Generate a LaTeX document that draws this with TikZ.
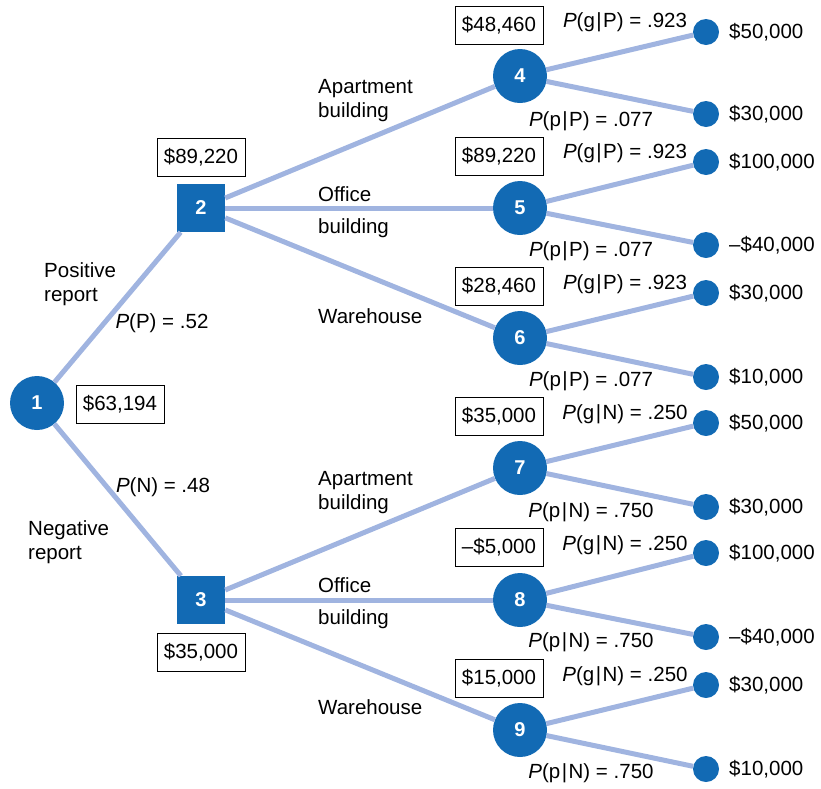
\documentclass[tikz,border=0pt]{standalone}
\usepackage{fontspec}
\setmainfont{Liberation Sans}
\definecolor{nodeblue}{RGB}{18,106,180}
\definecolor{lineblue}{RGB}{160,180,224}
\begin{document}
\begin{tikzpicture}[x=1pt,y=-1pt,
  every node/.style={font=\fontsize{20.5}{24}\selectfont},
  chance/.style={circle,fill=nodeblue,minimum size=54pt,inner sep=0pt,text=white,font=\fontsize{20}{24}\selectfont\bfseries},
  decision/.style={rectangle,fill=nodeblue,minimum size=48pt,inner sep=0pt,text=white,font=\fontsize{20}{24}\selectfont\bfseries},
  term/.style={circle,fill=nodeblue,minimum size=26pt,inner sep=0pt},
  valbox/.style={draw=black,line width=0.9pt,inner xsep=7pt,minimum height=38pt},
  branch/.style={draw=lineblue,line width=5pt},
  lbl/.style={align=left,inner sep=0pt},
  pay/.style={anchor=west,inner sep=0pt}]
\useasboundingbox (0,0) rectangle (821,788);
\newcommand{\pr}[2]{\textit{P}(#1\kern1.5pt|\kern1.5pt#2)}
% nodes
\node[chance] (n1) at (37,403) {1};
\node[decision] (n2) at (201,208) {2};
\node[decision] (n3) at (201,600) {3};
\node[chance] (n4) at (520,76) {4};
\node[chance] (n5) at (520,208) {5};
\node[chance] (n6) at (520,338) {6};
\node[chance] (n7) at (520,468) {7};
\node[chance] (n8) at (520,600) {8};
\node[chance] (n9) at (520,730) {9};
\foreach \n/\y in {4a/32,4b/114,5a/162,5b/245,6a/293,6b/377,7a/423,7b/507,8a/553,8b/637,9a/685,9b/769}
  \node[term] (t\n) at (706,\y) {};
% edges
\foreach \a/\b in {n1/n2,n1/n3,n2/n4,n2/n5,n2/n6,n3/n7,n3/n8,n3/n9,
  n4/t4a,n4/t4b,n5/t5a,n5/t5b,n6/t6a,n6/t6b,n7/t7a,n7/t7b,n8/t8a,n8/t8b,n9/t9a,n9/t9b}
  \draw[branch] (\a) -- (\b);
% payoffs
\node[pay] (p4a) at (729,32) {\$50,000};
\node[pay] (p4b) at (729,114) {\$30,000};
\node[pay] (p5a) at (729,162) {\$100,000};
\node[pay] (p5b) at (729,245) {–\$40,000};
\node[pay] (p6a) at (729,293) {\$30,000};
\node[pay] (p6b) at (729,377) {\$10,000};
\node[pay] (p7a) at (729,423) {\$50,000};
\node[pay] (p7b) at (729,507) {\$30,000};
\node[pay] (p8a) at (729,553) {\$100,000};
\node[pay] (p8b) at (729,637) {–\$40,000};
\node[pay] (p9a) at (729,685) {\$30,000};
\node[pay] (p9b) at (729,769) {\$10,000};
% value boxes
\node[valbox] (v1) at (120,404) {\$63,194};
\node[valbox] (v2) at (201,157) {\$89,220};
\node[valbox] (v3) at (201,652) {\$35,000};
\node[valbox] (v4) at (499,25) {\$48,460};
\node[valbox] (v5) at (499,156) {\$89,220};
\node[valbox] (v6) at (499,286) {\$28,460};
\node[valbox] (v7) at (499,416) {\$35,000};
\node[valbox] (v8) at (499,547) {–\$5,000};
\node[valbox] (v9) at (499,678) {\$15,000};
% probabilities
\node (g4) at (625,22) {\pr{g}{P} = .923};
\node (q4) at (591,121) {\pr{p}{P} = .077};
\node (g5) at (625,153) {\pr{g}{P} = .923};
\node (q5) at (591,251) {\pr{p}{P} = .077};
\node (g6) at (625,284) {\pr{g}{P} = .923};
\node (q6) at (591,381) {\pr{p}{P} = .077};
\node (g7) at (625,414) {\pr{g}{N} = .250};
\node (q7) at (591,512) {\pr{p}{N} = .750};
\node (g8) at (625,545) {\pr{g}{N} = .250};
\node (q8) at (591,642) {\pr{p}{N} = .750};
\node (g9) at (625,676) {\pr{g}{N} = .250};
\node (q9) at (591,773) {\pr{p}{N} = .750};
\node (pP) at (162,323) {\textit{P}(P) = .52};
\node (pN) at (163,487) {\textit{P}(N) = .48};
% branch labels
\node[lbl,anchor=north west] (ls1) at (44,262) {Positive\\report};
\node[lbl,anchor=north west] (ls2) at (28,520) {Negative\\report};
\node[lbl,anchor=north west] (la1) at (318,79) {Apartment\\building};
\node[lbl,anchor=north west] (lo1) at (318,186) {Office\\[8pt]building};
\node[lbl,anchor=north west] (lw1) at (318,308) {Warehouse};
\node[lbl,anchor=north west] (la2) at (318,471) {Apartment\\building};
\node[lbl,anchor=north west] (lo2) at (318,577) {Office\\[8pt]building};
\node[lbl,anchor=north west] (lw2) at (318,699) {Warehouse};
\end{tikzpicture}
\end{document}
